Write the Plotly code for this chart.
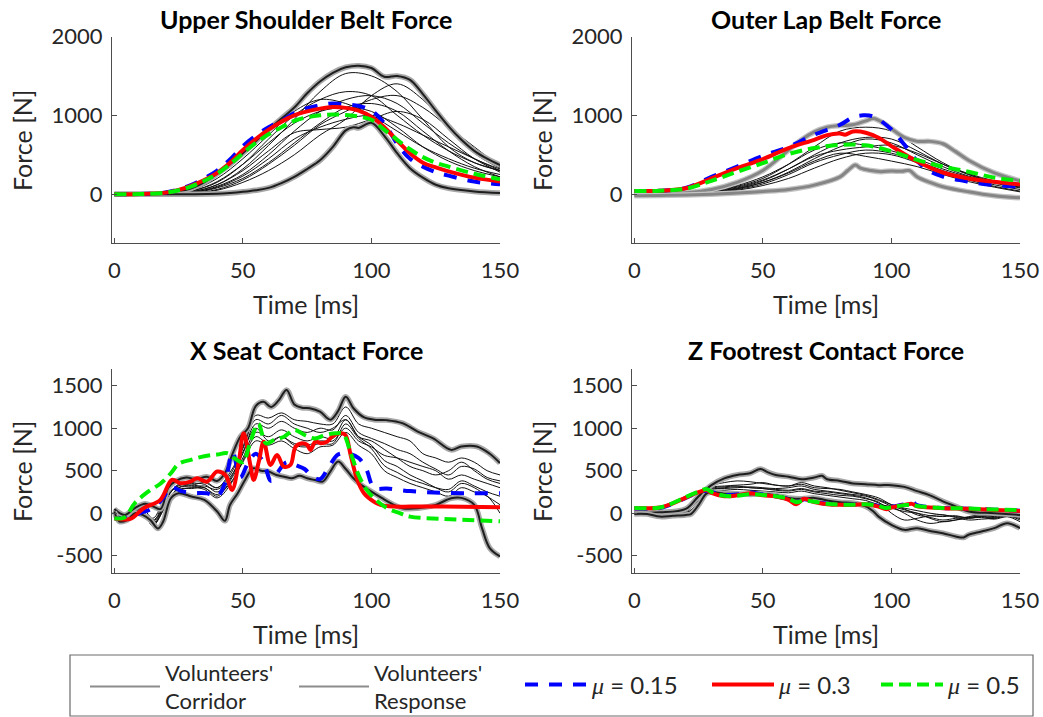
import plotly.graph_objects as go

W, H = 1043, 717
FONT = "Lato"

# ---------------- common time grids ----------------
T10 = [0, 10, 20, 30, 40, 50, 60, 70, 80, 90, 100, 110, 120, 130, 140, 150]
T5 = [0, 5, 10, 15, 20, 25, 30, 35, 40, 45, 50, 55, 60, 65, 70, 75, 80, 85, 90, 95,
      100, 105, 110, 115, 120, 125, 130, 135, 140, 145, 150]

# ---------------- Panel A: Upper Shoulder Belt Force ----------------
A_T_MODEL = [0, 10, 20, 25, 30, 35, 40, 45, 50, 55, 60, 65, 70, 75, 80, 85, 90, 95, 100, 105, 110, 115, 120, 125, 130, 140, 150]
A_MU015 = [0, 2, 22, 60, 120, 200, 300, 440, 610, 740, 850, 930, 1030, 1090, 1130, 1150, 1140, 1120, 1060, 900, 640, 450, 350, 280, 235, 160, 125]
A_MU03 = [0, 2, 20, 55, 110, 180, 270, 400, 560, 700, 820, 920, 1000, 1050, 1085, 1105, 1095, 1060, 980, 850, 680, 520, 400, 340, 290, 210, 160]
A_MU05 = [0, 2, 20, 50, 100, 170, 260, 380, 520, 650, 760, 850, 930, 975, 1000, 1010, 1005, 985, 945, 820, 690, 570, 470, 400, 350, 260, 190]
A_CU_T = [0, 10, 20, 25, 30, 35, 40, 45, 50, 55, 60, 65, 70, 75, 80, 85, 90, 95, 100, 105, 110, 115, 120, 125, 130, 135, 140, 145, 150]
A_CU = [0, 0, 10, 35, 75, 150, 260, 380, 520, 670, 820, 960, 1100, 1280, 1430, 1540, 1610, 1630, 1600, 1490, 1500, 1450, 1270, 1060, 860, 690, 550, 450, 370]
A_CL_T = [0, 10, 20, 30, 40, 45, 50, 55, 60, 65, 70, 75, 80, 85, 90, 93, 95, 100, 105, 110, 115, 120, 125, 130, 140, 150]
A_CL = [0, 0, 0, 0, 5, 15, 30, 50, 80, 140, 220, 320, 430, 600, 810, 850, 840, 905, 740, 520, 330, 210, 120, 75, 35, 15]
A_R1 = [0, 0, 5, 30, 120, 320, 620, 950, 1300, 1530, 1500, 1300, 950, 600, 400, 300]
A_R2 = [0, 0, 0, 10, 50, 150, 300, 500, 750, 950, 1250, 1400, 1200, 850, 520, 330]
A_R3 = [0, 0, 5, 40, 150, 380, 700, 1000, 1200, 1300, 1250, 1000, 750, 550, 400, 300]
A_R4 = [0, 0, 0, 20, 100, 250, 500, 800, 1050, 1200, 1250, 1150, 900, 650, 450, 320]
A_R5 = [0, 0, 10, 50, 200, 450, 750, 1050, 1200, 1150, 1000, 800, 600, 450, 330, 250]
A_R6 = [0, 0, 0, 15, 80, 200, 400, 650, 900, 1100, 1150, 1050, 800, 550, 350, 220]
A_R7 = [0, 0, 0, 20, 90, 230, 450, 700, 850, 950, 1000, 900, 750, 600, 450, 300]
A_R8 = [0, 0, 5, 30, 120, 300, 550, 780, 820, 850, 950, 1050, 950, 700, 450, 280]
A_R9 = [0, 0, 5, 40, 160, 380, 650, 900, 1050, 1100, 1050, 850, 600, 420, 300, 220]
A_R10 = [0, 0, 0, 10, 60, 180, 380, 620, 880, 1050, 1200, 1250, 1100, 850, 600, 350]

# ---------------- Panel B: Outer Lap Belt Force ----------------
B_T_MU015 = [0, 10, 20, 30, 40, 50, 60, 70, 80, 85, 89, 93, 100, 105, 110, 115, 120, 130, 140, 150]
B_MU015 = [40, 45, 80, 220, 350, 485, 600, 755, 880, 975, 1000, 985, 820, 630, 420, 290, 225, 160, 115, 95]
B_T_MU03 = [0, 10, 20, 30, 40, 50, 60, 70, 75, 80, 82, 85, 90, 95, 100, 110, 120, 130, 140, 150]
B_MU03 = [40, 45, 75, 200, 330, 445, 585, 690, 750, 770, 755, 795, 780, 715, 610, 415, 275, 200, 158, 125]
B_MU05 = [40, 45, 70, 170, 285, 395, 510, 585, 625, 620, 545, 435, 350, 285, 210, 170]
B_CU_T = [0, 10, 20, 30, 40, 50, 60, 65, 70, 75, 80, 85, 90, 93, 97, 100, 105, 110, 115, 120, 125, 130, 140, 150]
B_CU = [0, 5, 20, 60, 150, 300, 560, 690, 790, 850, 870, 880, 930, 960, 900, 830, 720, 670, 670, 640, 540, 430, 270, 170]
B_CL_T = [0, 10, 20, 30, 40, 50, 60, 70, 80, 83, 86, 88, 92, 96, 100, 104, 107, 110, 115, 120, 130, 140, 150]
B_CL = [-20, -15, -10, 0, 15, 35, 60, 115, 220, 300, 370, 330, 300, 285, 295, 290, 300, 220, 150, 95, 30, -20, -45]
B_R1 = [0, 0, 10, 40, 100, 200, 380, 600, 800, 850, 800, 600, 400, 250, 150, 100]
B_R2 = [0, 0, 10, 30, 80, 170, 320, 500, 650, 720, 700, 550, 380, 250, 160, 110]
B_R3 = [0, 0, 5, 25, 70, 150, 280, 450, 600, 700, 650, 500, 350, 230, 150, 90]
B_R4 = [0, 0, 10, 40, 110, 220, 380, 560, 650, 620, 550, 450, 320, 220, 140, 80]
B_R5 = [0, 0, 5, 20, 60, 130, 250, 400, 500, 560, 520, 420, 300, 200, 120, 60]
B_R6 = [0, 0, 5, 20, 50, 110, 200, 330, 450, 520, 500, 400, 280, 180, 100, 40]
B_R7 = [0, 0, 10, 35, 90, 180, 320, 480, 560, 600, 620, 520, 380, 260, 170, 110]
B_R8 = [0, 0, 5, 25, 70, 150, 270, 420, 520, 480, 420, 350, 250, 160, 90, 30]

# ---------------- Panel C: X Seat Contact Force ----------------
C_T_MU015 = [0, 5, 10, 15, 19, 22, 26, 31, 36, 40, 43, 46, 49, 52, 55, 58, 61, 64, 67, 71, 74, 77, 80, 83, 87, 91, 95, 98, 101, 106, 115, 128, 150]
C_MU015 = [-60, -60, 0, 60, 180, 310, 260, 240, 235, 200, 350, 720, 420, 590, 700, 600, 380, 500, 600, 560, 520, 430, 400, 520, 690, 700, 650, 520, 300, 290, 260, 240, 235]
C_T_MU03 = [0, 6.2, 11.4, 17.9, 22.4, 25.7, 29.6, 32.2, 36.1, 40, 43.2, 45.8, 48.4, 50.3, 52.9, 54.2, 56.2, 58.1, 60.7, 63.3, 65.9, 68.5, 70.5, 73.1, 75, 76.3, 78.2, 80.2, 82.8, 84.7, 88, 89.9, 91.9, 94.5, 97.1, 100.9, 103.5, 108.7, 115.2, 128.2, 150]
C_MU03 = [-59, -67, 59, 157, 392, 353, 372, 411, 372, 490, 450, 274, 607, 940, 568, 392, 607, 842, 568, 685, 548, 568, 783, 823, 803, 744, 842, 823, 842, 901, 940, 920, 685, 392, 235, 137, 98, 78, 78, 78, 70]
C_T_MU05 = [0, 4, 8, 13, 18, 22, 25, 30, 35, 40, 44, 47, 50, 53, 56, 59, 62, 66, 70, 74, 78, 82, 86, 89, 92, 95, 98, 102, 106, 111, 115, 128, 150]
C_MU05 = [-60, -50, 120, 250, 350, 470, 580, 630, 670, 690, 705, 640, 600, 850, 1050, 820, 860, 900, 980, 920, 880, 920, 940, 930, 700, 450, 280, 150, 60, 0, -40, -67, -95]
C_CU_T = [0, 4, 8, 12, 15, 18, 21, 24, 28, 32, 36, 40, 43, 46, 49, 52, 55, 58, 61, 64, 67, 70, 73, 76, 80, 84, 87, 90, 93, 97, 101, 106, 112, 118, 124, 131, 135, 141, 146, 150]
C_CU = [50, -20, 60, 110, 80, 50, 300, 380, 420, 400, 430, 380, 470, 700, 900, 1000, 1260, 1310, 1250, 1330, 1450, 1280, 1240, 1235, 1195, 1100, 1200, 1370, 1235, 1130, 1100, 1095, 1060, 960, 880, 745, 785, 785, 700, 590]
C_CL_T = [0, 2, 5, 8, 11, 14, 17, 19, 22, 25, 30, 35, 40, 43, 45, 48, 51, 54, 57, 60, 63, 66, 69, 72, 75, 78, 81, 84, 87, 90, 93, 96, 100, 104, 108, 112, 118, 125, 131, 135, 140, 143, 146, 150]
C_CL = [20, -98, -80, 0, -20, -80, -180, -98, 176, 235, 196, 157, 20, -90, 98, 235, 400, 529, 500, 490, 450, 430, 411, 440, 411, 390, 372, 490, 607, 520, 411, 333, 255, 180, 110, 59, 59, 98, 176, 180, 98, -176, -411, -509]
C_R1 = [0, -60, 60, -120, 150, 340, 330, 360, 300, 450, 780, 1150, 1120, 1180, 1100, 1080, 1050, 1050, 1250, 1050, 1000, 950, 900, 850, 700, 650, 600, 650, 600, 500, 450]
C_R2 = [20, -40, 40, -80, 100, 300, 310, 320, 280, 420, 700, 1050, 1000, 1080, 1000, 950, 1000, 980, 1150, 950, 880, 820, 750, 700, 600, 520, 450, 550, 520, 420, 380]
C_R3 = [0, -70, 80, -150, 120, 280, 290, 300, 200, 380, 650, 950, 900, 980, 900, 850, 900, 880, 1100, 900, 800, 620, 550, 450, 380, 300, 250, 350, 300, 200, 100]
C_R4 = [10, -50, 50, -100, 180, 320, 350, 340, 250, 400, 720, 1000, 850, 900, 820, 800, 850, 850, 1000, 850, 780, 680, 650, 600, 550, 500, 400, 450, 400, 350, 300]
C_R5 = [0, -60, 60, -130, 90, 300, 330, 300, 220, 350, 600, 850, 800, 850, 760, 700, 780, 800, 950, 800, 700, 500, 420, 350, 300, 250, 200, 300, 250, 200, 0]
C_R6 = [30, -30, 90, -60, 200, 330, 360, 380, 300, 480, 760, 1100, 1050, 1150, 1050, 1000, 950, 1000, 1100, 900, 850, 750, 650, 550, 500, 450, 500, 600, 500, 400, 350]
C_R7 = [0, -50, 40, -140, 80, 260, 300, 280, 180, 330, 620, 900, 820, 900, 800, 780, 820, 820, 1050, 880, 760, 560, 480, 400, 350, 300, 280, 380, 320, 250, 200]

# ---------------- Panel D: Z Footrest Contact Force ----------------
D_T_MU = [0, 10, 15, 20, 25, 28, 30, 35, 40, 45, 50, 55, 60, 63, 66, 70, 75, 80, 85, 90, 95, 98, 100, 105, 108, 110, 115, 120, 130, 140, 150]
D_MU015 = [55, 62, 110, 180, 240, 265, 250, 215, 220, 245, 220, 200, 165, 125, 165, 135, 110, 100, 102, 110, 85, 60, 75, 105, 135, 95, 72, 62, 53, 42, 30]
D_MU03 = [59, 67, 117, 184, 247, 274, 240, 200, 210, 235, 210, 196, 157, 105, 170, 130, 106, 98, 98, 106, 78, 47, 67, 98, 110, 80, 67, 59, 51, 39, 27]
D_MU05 = [60, 68, 120, 190, 255, 285, 250, 205, 205, 225, 215, 200, 170, 130, 150, 135, 110, 100, 100, 105, 85, 60, 70, 95, 100, 85, 70, 62, 55, 45, 35]
D_CU_T = [0, 10, 20, 25, 30, 35, 40, 45, 49, 52, 55, 60, 65, 70, 73, 75, 80, 85, 90, 95, 100, 105, 110, 115, 120, 125, 130, 140, 150]
D_CU = [10, 10, 50, 200, 330, 410, 450, 470, 520, 480, 450, 430, 400, 420, 440, 400, 380, 350, 340, 330, 330, 310, 260, 210, 140, 80, 20, 0, -20]
D_CL_T = [0, 5, 10, 15, 20, 22, 25, 28, 30, 35, 40, 45, 50, 55, 60, 65, 70, 75, 80, 85, 90, 93, 95, 100, 105, 110, 115, 120, 125, 128, 130, 135, 140, 145, 150]
D_CL = [-8, -10, -40, -30, -20, -10, 98, 230, 250, 230, 230, 220, 230, 210, 180, 170, 180, 150, 130, 120, 80, 20, -40, -137, -196, -176, -210, -235, -274, -286, -254, -215, -176, -117, -176]
D_R1 = [0, 0, -20, -10, 20, 160, 300, 320, 330, 340, 360, 330, 320, 340, 300, 290, 280, 250, 220, 180, 100, 50, -20, -50, -80, -60, -50, -40, -60, -30, -80]
D_R2 = [0, 0, -10, 0, 30, 150, 280, 290, 300, 310, 300, 290, 300, 320, 280, 260, 240, 220, 200, 150, 80, 0, -80, -120, -100, -80, -60, -50, -70, -40, -60]
D_R3 = [0, -10, -30, -20, 0, 120, 270, 300, 310, 300, 290, 280, 270, 290, 260, 250, 230, 210, 180, 120, 60, 20, 0, -30, -40, -30, -60, -40, -50, -20, -40]
D_R4 = [0, 0, -20, -10, 10, 170, 290, 310, 320, 300, 290, 270, 260, 280, 250, 230, 210, 200, 170, 130, 0, -80, -60, -30, -20, -50, -80, -70, -60, -40, -100]
D_R5 = [0, 0, -10, -30, -10, 130, 260, 270, 280, 270, 260, 250, 240, 260, 230, 210, 190, 170, 150, 100, 80, 40, 0, -60, -100, -80, -40, -20, -30, -10, -50]
D_R6 = [0, -10, -20, -10, 40, 190, 320, 360, 380, 370, 350, 330, 320, 360, 320, 300, 270, 240, 210, 160, 100, 60, 30, 0, -20, -40, -50, -30, -40, -20, -60]

TITLES = ["Upper Shoulder Belt Force", "Outer Lap Belt Force",
          "X Seat Contact Force", "Z Footrest Contact Force"]
X_TICKS = [0, 50, 100, 150]
Y_TICKS_TOP = [0, 1000, 2000]
Y_TICKS_BOT = [-500, 0, 500, 1000, 1500]
Y_TICKTEXT_BOT = ["-500", "0", "500", "1000", "1500"]
LEG_CORRIDOR = "Volunteers'<br>Corridor"
LEG_RESPONSE = "Volunteers'<br>Response"
MU_HTML = "<span style=\"font-family:'Liberation Serif'\"><i>μ</i></span>"
LEG_MU = [MU_HTML + " = 0.15", MU_HTML + " = 0.3", MU_HTML + " = 0.5"]

PANELS = [
    dict(ax=("x", "y"),
         resp=[(T10, r) for r in [A_R1, A_R2, A_R3, A_R4, A_R5, A_R6, A_R7, A_R8, A_R9, A_R10]],
         corr=[(A_CU_T, A_CU), (A_CL_T, A_CL)],
         mu=[(A_T_MODEL, A_MU015), (A_T_MODEL, A_MU03), (A_T_MODEL, A_MU05)],
         gray=False),
    dict(ax=("x2", "y2"),
         resp=[(T10, r) for r in [B_R1, B_R2, B_R3, B_R4, B_R5, B_R6, B_R7, B_R8]],
         corr=[(B_CU_T, B_CU), (B_CL_T, B_CL)],
         mu=[(B_T_MU015, B_MU015), (B_T_MU03, B_MU03), (T10, B_MU05)],
         gray=True),
    dict(ax=("x3", "y3"),
         resp=[(T5, r) for r in [C_R1, C_R2, C_R3, C_R4, C_R5, C_R6, C_R7]],
         corr=[(C_CU_T, C_CU), (C_CL_T, C_CL)],
         mu=[(C_T_MU015, C_MU015), (C_T_MU03, C_MU03), (C_T_MU05, C_MU05)],
         gray=False),
    dict(ax=("x4", "y4"),
         resp=[(T5, r) for r in [D_R1, D_R2, D_R3, D_R4, D_R5, D_R6]],
         corr=[(D_CU_T, D_CU), (D_CL_T, D_CL)],
         mu=[(D_T_MU, D_MU015), (D_T_MU, D_MU03), (D_T_MU, D_MU05)],
         gray=False),
]

MU_STYLES = [dict(color="#0000ff", width=4, dash="13px,11px"),
             dict(color="#ff0000", width=4),
             dict(color="#00ee00", width=4, dash="12px,6px")]

fig = go.Figure()

for p in PANELS:
    xa, ya = p["ax"]
    for t, v in p["resp"]:
        fig.add_trace(go.Scatter(x=t, y=v, xaxis=xa, yaxis=ya, mode="lines",
                                 line=dict(color="#111111", width=1, shape="spline"),
                                 showlegend=False, hoverinfo="skip"))
    for t, v in p["corr"]:
        if p["gray"]:
            halo, core, cw = "#c4c4c4", "#858585", 3
        else:
            halo, core, cw = "#a8a8a8", "#1e1e1e", 2
        fig.add_trace(go.Scatter(x=t, y=v, xaxis=xa, yaxis=ya, mode="lines",
                                 line=dict(color=halo, width=5.5, shape="spline"),
                                 showlegend=False, hoverinfo="skip"))
        fig.add_trace(go.Scatter(x=t, y=v, xaxis=xa, yaxis=ya, mode="lines",
                                 line=dict(color=core, width=cw, shape="spline"),
                                 showlegend=False, hoverinfo="skip"))

# model curves on top
for i, p in enumerate(PANELS):
    xa, ya = p["ax"]
    for k, (t, v) in enumerate(p["mu"]):
        fig.add_trace(go.Scatter(x=t, y=v, xaxis=xa, yaxis=ya, mode="lines",
                                 line=dict(shape="spline", **MU_STYLES[k]),
                                 name=LEG_MU[k], legend="legend2",
                                 legendwidth=[110, 92, 80][k],
                                 showlegend=(i == 0), hoverinfo="skip"))

# legend-only entries for volunteers
fig.add_trace(go.Scatter(x=[None], y=[None], mode="lines", name=LEG_CORRIDOR,
                         line=dict(color="#8c8c8c", width=2), legend="legend",
                         legendwidth=124))
fig.add_trace(go.Scatter(x=[None], y=[None], mode="lines", name=LEG_RESPONSE,
                         line=dict(color="#8c8c8c", width=2), legend="legend",
                         legendwidth=120))

# ---------------- layout ----------------
def px_x(v):
    return v / W

def px_y(v):
    return (H - v) / H

AX_COLOR = "#4d4d4d"
TICK_FONT = dict(family=FONT, size=22, color="#262626")

def xaxis(dom, anchor):
    return dict(domain=dom, anchor=anchor, range=[-0.9, 150], tickvals=X_TICKS,
                showline=True, linecolor=AX_COLOR, linewidth=1, ticks="inside",
                ticklen=5, tickcolor=AX_COLOR, showgrid=False, zeroline=False,
                tickfont=TICK_FONT, ticklabelstandoff=8, fixedrange=True,
                automargin=False)

def yaxis(dom, anchor, rng, tv, tt):
    return dict(domain=dom, anchor=anchor, range=rng, tickvals=tv, ticktext=tt,
                showline=True, linecolor=AX_COLOR, linewidth=1, ticks="inside",
                ticklen=5, tickcolor=AX_COLOR, showgrid=False, zeroline=False,
                tickfont=TICK_FONT, ticklabelstandoff=4, fixedrange=True,
                automargin=False)

XL = [px_x(112), px_x(500)]
XR = [px_x(632), px_x(1020)]
YT = [px_y(242.7), px_y(36.5)]
YB = [px_y(572.7), px_y(369.3)]

annotations = []
title_pos = [(306, 19), (826, 19), (306, 350), (826, 350)]
for (cx, cy), txt in zip(title_pos, TITLES):
    annotations.append(dict(text="<b>" + txt + "</b>", x=px_x(cx), y=px_y(cy),
                            xref="paper", yref="paper", showarrow=False,
                            xanchor="center", yanchor="middle",
                            font=dict(family=FONT, size=25, color="#000000")))
for cx, cy in [(306, 304), (826, 304), (306, 634), (826, 634)]:
    annotations.append(dict(text="Time [ms]", x=px_x(cx), y=px_y(cy),
                            xref="paper", yref="paper", showarrow=False,
                            xanchor="center", yanchor="middle",
                            font=dict(family=FONT, size=25, color="#262626")))
for cx, cy in [(22, 140), (542, 140), (22, 471), (542, 471)]:
    annotations.append(dict(text="Force [N]", x=px_x(cx), y=px_y(cy),
                            xref="paper", yref="paper", showarrow=False,
                            textangle=-90, xanchor="center", yanchor="middle",
                            font=dict(family=FONT, size=25, color="#262626")))

LEG_FONT1 = dict(family=FONT, size=22, color="#262626")
LEG_FONT2 = dict(family=FONT, size=24, color="#262626")

fig.update_layout(
    width=W, height=H,
    margin=dict(l=0, r=0, t=0, b=0, autoexpand=False),
    paper_bgcolor="white", plot_bgcolor="white",
    xaxis=xaxis(XL, "y"), yaxis=yaxis(YT, "x", [-615, 2000], Y_TICKS_TOP, None),
    xaxis2=xaxis(XR, "y2"), yaxis2=yaxis(YT, "x2", [-615, 2000], Y_TICKS_TOP, None),
    xaxis3=xaxis(XL, "y3"), yaxis3=yaxis(YB, "x3", [-700, 1693], Y_TICKS_BOT, Y_TICKTEXT_BOT),
    xaxis4=xaxis(XR, "y4"), yaxis4=yaxis(YB, "x4", [-700, 1693], Y_TICKS_BOT, Y_TICKTEXT_BOT),
    annotations=annotations,
    legend=dict(orientation="h", x=px_x(85), y=px_y(687), xanchor="left", yanchor="middle",
                font=LEG_FONT1, bgcolor="rgba(0,0,0,0)", borderwidth=0, itemwidth=70,
                entrywidthmode="pixels", valign="middle"),
    legend2=dict(orientation="h", x=px_x(520), y=px_y(685), xanchor="left", yanchor="middle",
                 font=LEG_FONT2, bgcolor="rgba(0,0,0,0)", borderwidth=0, itemwidth=62,
                 entrywidthmode="pixels", valign="middle"),
    shapes=[dict(type="rect", xref="paper", yref="paper",
                 x0=px_x(70), x1=px_x(1033), y0=px_y(716), y1=px_y(655),
                 line=dict(color="#6a6a6a", width=1.2), fillcolor="rgba(0,0,0,0)")],
    showlegend=True,
)

# remove the browser's default page margin so the 1043x717 figure fills the window
PAGE_FIX = ("document.body.style.margin='0';"
            "document.body.style.overflow='hidden';"
            "document.documentElement.style.overflow='hidden';")
fig.write_html("out.html", post_script=PAGE_FIX, config={"displayModeBar": False})
